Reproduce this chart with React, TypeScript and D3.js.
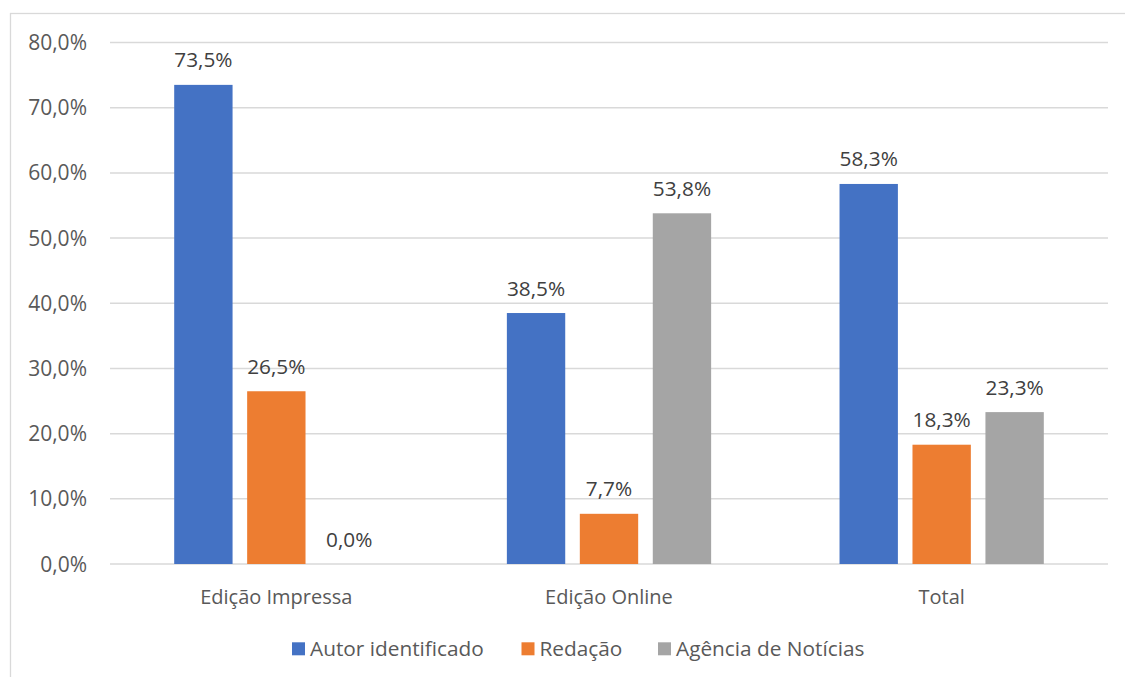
import React from "react";
import * as d3 from "d3";

const categories = ["Edição Impressa", "Edição Online", "Total"];
const seriesNames = ["Autor identificado", "Redação", "Agência de Notícias"];
const autorValues = [73.5, 38.5, 58.3];
const redacaoValues = [26.5, 7.7, 18.3];
const agenciaValues = [0.0, 53.8, 23.3];
const seriesColors = ["#4472C4", "#ED7D31", "#A5A5A5"];
const yTicks = [0, 10, 20, 30, 40, 50, 60, 70, 80];

const W = 1125;
const H = 677;
const FONT = "'Open Sans', sans-serif";
const TEXT = "#595959";
const GRID = "#d9d9d9";

const fmt = (v: number) => v.toFixed(1).replace(".", ",") + "%";

export default function App() {
  const seriesValues = [autorValues, redacaoValues, agenciaValues];
  const x0 = d3.scaleBand<string>().domain(categories).range([110, 1108]).paddingInner(0).paddingOuter(0);
  const x1 = d3
    .scaleBand<string>()
    .domain(seriesNames)
    .range([0, x0.bandwidth()])
    .paddingInner(0.2)
    .paddingOuter(0.88);
  const y = d3.scaleLinear().domain([0, 80]).range([564, 42.5]);

  const legendItems = [
    { name: seriesNames[0], sx: 292 },
    { name: seriesNames[1], sx: 521.5 },
    { name: seriesNames[2], sx: 658 },
  ];

  return (
    <svg
      width={W}
      height={H}
      style={{ position: "absolute", left: 0, top: 0, background: "#fff" }}
      fontFamily={FONT}
    >
      <rect x={0} y={0} width={W} height={H} fill="#fff" />
      <rect x={10.5} y={13.5} width={1300} height={800} fill="none" stroke={GRID} strokeWidth={1.3} />
      {yTicks.map((t) => (
        <g key={t}>
          <line x1={110} x2={1108} y1={y(t)} y2={y(t)} stroke={GRID} strokeWidth={1.5} />
          <text x={87} y={y(t) + 7.5} textAnchor="end" fontSize={21} fill={TEXT}>
            {fmt(t)}
          </text>
        </g>
      ))}
      {categories.map((c, ci) => (
        <g key={c} transform={`translate(${x0(c)},0)`}>
          {seriesNames.map((s, si) => {
            const v = seriesValues[si][ci];
            const bx = x1(s)!;
            const bw = x1.bandwidth();
            return (
              <g key={s}>
                {v > 0 && (
                  <rect x={bx} y={y(v)} width={bw} height={y(0) - y(v)} fill={seriesColors[si]} />
                )}
                <text
                  x={bx + bw / 2}
                  y={y(v) - 17.5}
                  textAnchor="middle"
                  fontSize={20.8}
                  fill={"#404040"}
                >
                  {fmt(v)}
                </text>
              </g>
            );
          })}
          <text x={x0.bandwidth() / 2} y={603.5} textAnchor="middle" fontSize={20} fill={TEXT}>
            {c}
          </text>
        </g>
      ))}
      {legendItems.map((l, i) => (
        <g key={l.name}>
          <rect x={l.sx} y={642.3} width={13} height={13} fill={seriesColors[i]} />
          <text x={l.sx + 18} y={656} fontSize={20.8} fill={TEXT}>
            {l.name}
          </text>
        </g>
      ))}
    </svg>
  );
}
